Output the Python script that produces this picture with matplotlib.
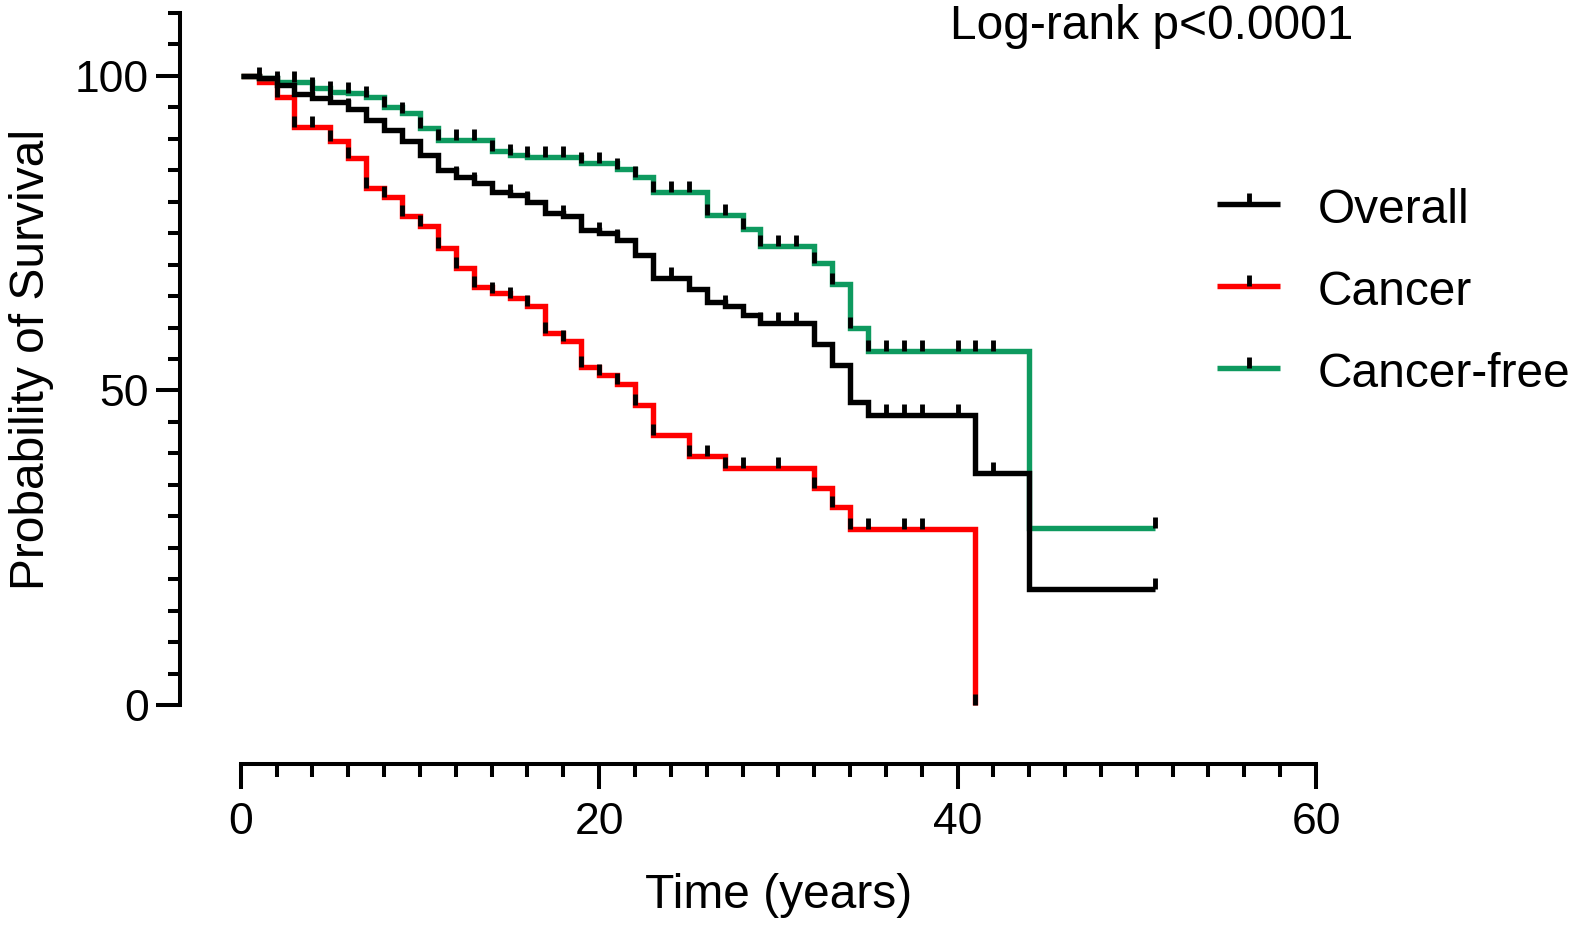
import numpy as np
import matplotlib
matplotlib.use('Agg')
import matplotlib.pyplot as plt
from matplotlib.lines import Line2D
from matplotlib.ticker import MultipleLocator

plt.rcParams['font.family'] = ['Liberation Sans', 'DejaVu Sans']

# ---------------- data ----------------
overall_t = [0, 1, 2, 3, 4, 5, 6, 7, 8, 9, 10, 11, 12, 13, 14, 15, 16, 17, 18, 19,
             20, 21, 22, 23, 25, 26, 27, 28, 29, 32, 33, 34, 35, 41, 44, 51]
overall_s = [100, 99.6, 98.6, 97.1, 96.5, 95.8, 94.7, 93.0, 91.4, 89.6, 87.4, 85.1,
             83.9, 82.9, 81.6, 81.1, 80.0, 78.2, 77.8, 75.5, 75.0, 73.9, 71.5, 67.9,
             66.2, 64.1, 63.5, 62.0, 60.7, 57.4, 54.1, 48.1, 46.1, 36.8, 18.4, 18.4]
overall_cens = list(range(1, 39)) + [40, 42, 51]

cancer_t = [0, 1, 2, 3, 5, 6, 7, 8, 9, 10, 11, 12, 13, 14, 15, 16, 17, 18, 19, 20,
            21, 22, 23, 25, 27, 32, 33, 34, 41]
cancer_s = [100, 99.0, 96.6, 91.8, 89.7, 86.9, 82.2, 80.7, 77.8, 76.1, 72.7, 69.4,
            66.4, 65.5, 64.7, 63.4, 59.1, 57.9, 53.8, 52.4, 51.0, 47.7, 42.9, 39.6,
            37.6, 34.5, 31.4, 27.9, 0]
cancer_cens = list(range(2, 24)) + [25, 26, 27, 28, 30, 32, 33, 34, 35, 37, 38, 41]

free_t = [0, 1, 2, 4, 5, 6, 7, 8, 9, 10, 11, 14, 15, 16, 19, 21, 22, 23, 26, 28, 29,
          32, 33, 34, 35, 44, 51]
free_s = [100, 99.6, 99.0, 98.0, 97.5, 97.3, 96.7, 95.1, 94.1, 91.7, 89.8, 88.0, 87.4,
          87.1, 86.1, 85.2, 84.0, 81.5, 77.9, 75.6, 73.0, 70.2, 67.0, 59.9, 56.3,
          28.1, 28.1]
free_cens = list(range(2, 39)) + [40, 41, 42, 51]

labels = ['Overall', 'Cancer', 'Cancer-free']
colors = ['#000000', '#FF0000', '#0E9A5F']

x_major = [0, 20, 40, 60]
y_major = [0, 50, 100]

# ---------------- figure ----------------
W, H = 1582, 926
LW = 3.9      # curve width (pt)
TMS = 7.6     # censor tick length (pt)
TMW = 3.5     # censor tick width (pt)
fig = plt.figure(figsize=(W / 100, H / 100), dpi=100)
ax = fig.add_axes([240.7 / W, (H - 705) / H, (1316 - 240.7) / W, (705 - 13) / H])
ax.set_xlim(0, 60)
ax.set_ylim(0, 110)

for s in ['top', 'right']:
    ax.spines[s].set_visible(False)
ax.spines['left'].set_position(('outward', 60.7 * 0.72))
ax.spines['bottom'].set_position(('outward', 58.5 * 0.72))
for s in ['left', 'bottom']:
    ax.spines[s].set_linewidth(2.9)
    ax.spines[s].set_capstyle('projecting')

ax.set_xticks(x_major)
ax.xaxis.set_minor_locator(MultipleLocator(2))
ax.set_yticks(y_major)
ax.yaxis.set_minor_locator(MultipleLocator(5))

ax.tick_params(axis='x', which='major', length=18, width=2.9, pad=9.5, labelsize=32)
ax.tick_params(axis='x', which='minor', length=9.4, width=2.9)
ax.tick_params(axis='y', which='major', length=17, width=2.9, pad=5.5, labelsize=32)
ax.tick_params(axis='y', which='minor', length=8.6, width=2.9)

series = [(overall_t, overall_s, overall_cens),
          (cancer_t, cancer_s, cancer_cens),
          (free_t, free_s, free_cens)]

order = [1, 2, 0]  # draw red, green, then black on top
for i in order:
    t, s, c = series[i]
    ax.step(t, s, where='post', color=colors[i], lw=LW, clip_on=False,
            solid_joinstyle='miter', solid_capstyle='butt', zorder=2 + (i == 0))

for i in order:
    t, s, c = series[i]
    ta = np.asarray(t, float)
    sa = np.asarray(s, float)
    idx = np.searchsorted(ta, np.asarray(c, float), side='right') - 1
    ax.plot(c, sa[idx], linestyle='none', marker=2, markersize=TMS,
            markeredgewidth=TMW, markeredgecolor='black', clip_on=False, zorder=5)

ax.set_xlabel('Time (years)', fontsize=34.5, va='top')
ax.xaxis.set_label_coords(0.5, (705 - 873) / 692)
ax.set_ylabel('Probability of Survival', fontsize=34.5)
ax.yaxis.set_label_coords((54 - 240.7) / 1075.3, 0.5)

fig.text(950 / W, 1 - 39 / H, 'Log-rank p<0.0001', fontsize=34.5,
         ha='left', va='baseline')

# legend (manual, Prism style)
for k in range(3):
    yl = 204.3 + 82 * k
    fig.add_artist(Line2D([1217 / W, 1280 / W], [1 - yl / H, 1 - yl / H],
                          transform=fig.transFigure, color=colors[k], lw=LW,
                          solid_capstyle='butt'))
    fig.add_artist(Line2D([1248.5 / W], [1 - yl / H], transform=fig.transFigure,
                          linestyle='none', marker=2, markersize=TMS,
                          markeredgewidth=TMW, markeredgecolor='black'))
    fig.text(1318 / W, 1 - (yl + 18.7) / H, labels[k], fontsize=34.5,
             ha='left', va='baseline')

fig.savefig('out.png', dpi=100)
